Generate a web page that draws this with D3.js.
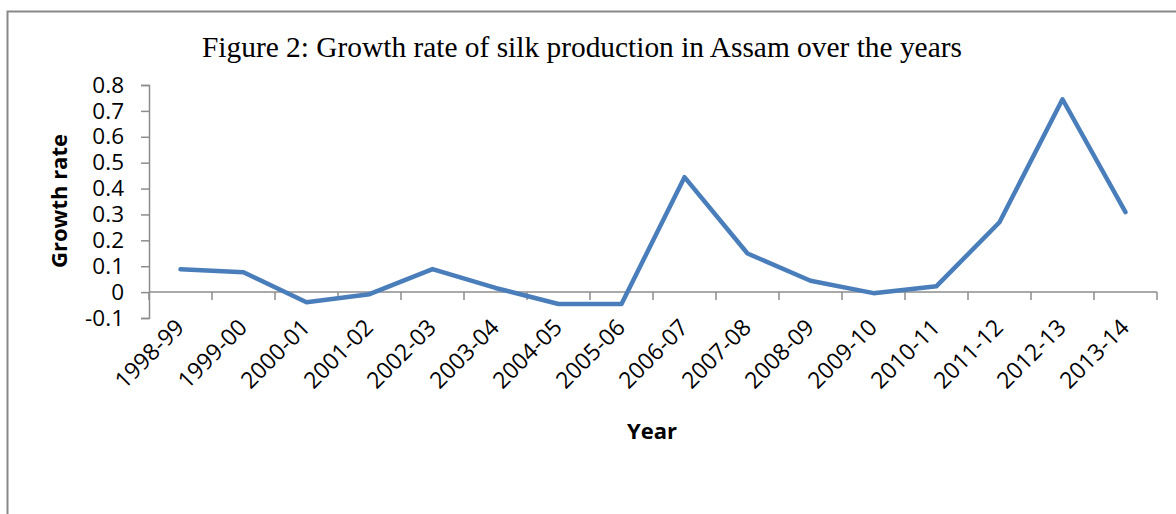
<!DOCTYPE html>
<meta charset="utf-8">
<script src="https://d3js.org/d3.v7.min.js"></script>
<style>
  body { margin: 0; background: #fff; }
</style>
<div id="chart"></div>
<script>
// data
var years = ["1998-99", "1999-00", "2000-01", "2001-02", "2002-03", "2003-04", "2004-05", "2005-06",
             "2006-07", "2007-08", "2008-09", "2009-10", "2010-11", "2011-12", "2012-13", "2013-14"]
var growth = [0.088, 0.077, -0.039, -0.008, 0.089, 0.016, -0.046, -0.046,
              0.444, 0.149, 0.044, -0.004, 0.023, 0.270, 0.745, 0.309]
var yTicks = [-0.1, 0, 0.1, 0.2, 0.3, 0.4, 0.5, 0.6, 0.7, 0.8]

var width = 1176
var height = 514
var svg = d3.select("#chart")
  .append("svg")
    .attr("width", width)
    .attr("height", height)

// chart frame
svg.append("rect")
  .attr("x", 7.5)
  .attr("y", 11.5)
  .attr("width", 1300)
  .attr("height", 600)
  .style("fill", "none")
  .style("stroke", "#898989")
  .style("stroke-width", 2)

var x = d3.scaleBand()
  .domain(years)
  .range([149, 1157])
  .padding(0)

var y = d3.scaleLinear()
  .domain([-0.1, 0.8])
  .range([318, 85])

var axisColor = "#8c8c8c"
var sans = "'Open Sans', sans-serif"

// y axis
var yAxis = svg.append("g")
  .attr("transform", "translate(149,0)")
  .call(d3.axisLeft(y).tickValues(yTicks).tickSize(8).tickPadding(17)
    .tickFormat(function(d){ return String(+d.toFixed(1)) }))
yAxis.select(".domain").style("stroke", axisColor).style("stroke-width", 1.5)
yAxis.selectAll(".tick line").style("stroke", axisColor).style("stroke-width", 1.5)
yAxis.selectAll(".tick text")
  .style("font-family", sans)
  .style("font-size", "22.5px")
  .style("fill", "#000")

// x axis sits on zero
var xAxis = svg.append("g")
  .attr("transform", "translate(0," + y(0) + ")")
xAxis.append("line")
  .attr("x1", 149).attr("x2", 1157)
  .style("stroke", axisColor).style("stroke-width", 1.5)
xAxis.selectAll(".xtick")
  .data(years.concat(["end"]))
  .enter().append("line")
    .attr("x1", function(d, i){ return i < years.length ? x(d) : x.range()[1] })
    .attr("x2", function(d, i){ return i < years.length ? x(d) : x.range()[1] })
    .attr("y1", 0)
    .attr("y2", 8)
    .style("stroke", axisColor).style("stroke-width", 1.5)

// rotated category labels below the plot area
svg.append("g")
  .selectAll("text")
  .data(years)
  .enter().append("text")
    .attr("transform", function(d){
      return "translate(" + (x(d) + x.bandwidth() / 2 + 5) + ",329) rotate(-45)" })
    .attr("text-anchor", "end")
    .style("font-family", sans)
    .style("font-size", "23px")
    .text(function(d){ return d })

// the growth line
var line = d3.line()
  .x(function(d, i){ return x(years[i]) + x.bandwidth() / 2 })
  .y(function(d){ return y(d) })

svg.append("path")
  .datum(growth)
  .attr("d", line)
  .style("fill", "none")
  .style("stroke", "#4a7ebb")
  .style("stroke-width", 4.5)
  .style("stroke-linejoin", "round")
  .style("stroke-linecap", "round")

// titles
svg.append("text")
  .attr("x", 202)
  .attr("y", 57)
  .style("font-family", "'Liberation Serif', 'Times New Roman', serif")
  .style("font-size", "29.4px")
  .text("Figure 2: Growth rate of silk production in Assam over the years")

svg.append("text")
  .attr("x", 652)
  .attr("y", 439)
  .attr("text-anchor", "middle")
  .style("font-family", sans)
  .style("font-weight", "bold")
  .style("font-size", "22px")
  .text("Year")

svg.append("text")
  .attr("transform", "translate(66.5,201) rotate(-90)")
  .attr("text-anchor", "middle")
  .style("font-family", sans)
  .style("font-weight", "bold")
  .style("font-size", "22px")
  .text("Growth rate")
</script>
